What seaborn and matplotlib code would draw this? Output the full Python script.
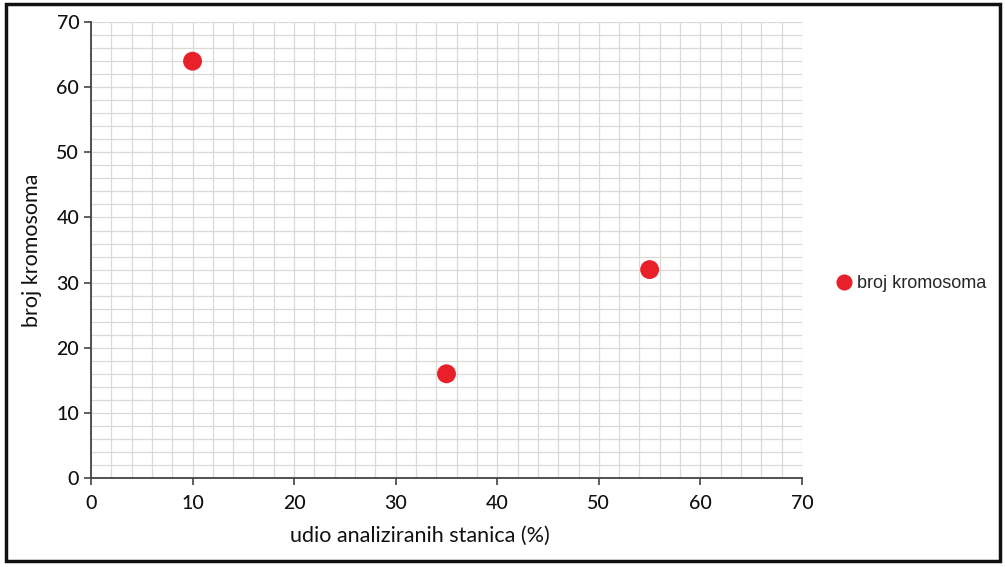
import matplotlib
matplotlib.use("Agg")
import matplotlib.pyplot as plt
import seaborn as sns
import pandas as pd
import numpy as np
from matplotlib.patches import Rectangle

udio = [10, 35, 55]
broj = [64, 16, 32]
series_name = "broj kromosoma"
x_ticks = [0, 10, 20, 30, 40, 50, 60, 70]
y_ticks = [0, 10, 20, 30, 40, 50, 60, 70]

df = pd.DataFrame({"udio": udio, "broj": broj, "serija": series_name})

sns.set_theme(style="white")
plt.rcParams['font.family'] = ['Lato', 'DejaVu Sans']

fig = plt.figure(figsize=(10.05, 5.67), dpi=100)
ax = fig.add_axes([0.0905, 0.157, 0.7075, 0.804])

sns.scatterplot(data=df, x="udio", y="broj", hue="serija", palette=["#e8202a"],
                s=185, edgecolor="none", ax=ax, legend=True, zorder=3)

ax.set_xlim(0, 70)
ax.set_ylim(0, 70)
ax.set_xticks(x_ticks)
ax.set_yticks(y_ticks)
ax.set_xticks(np.arange(0, 71, 2), minor=True)
ax.set_yticks(np.arange(0, 71, 2), minor=True)
ax.grid(True, which="both", color="#dcd8d6", linewidth=0.9)
ax.set_axisbelow(True)
ax.tick_params(axis="both", which="major", direction="out", length=5, width=1.2,
               color="#444444", labelsize=14, labelcolor="#111111", bottom=True, left=True)
ax.tick_params(axis="x", which="major", pad=7)
ax.tick_params(axis="both", which="minor", length=0)
for lab in ax.get_xticklabels() + ax.get_yticklabels():
    lab.set_fontweight("medium")
for s in ["top", "right"]:
    ax.spines[s].set_visible(False)
for s in ["left", "bottom"]:
    ax.spines[s].set_color("#444444")
    ax.spines[s].set_linewidth(1.3)

ax.set_xlabel("udio analiziranih stanica (%)", fontsize=15.5, color="#111111")
ax.set_ylabel("broj kromosoma", fontsize=15.5, color="#111111")
ax.xaxis.set_label_coords(0.463, -0.105)
ax.yaxis.set_label_coords(-0.069, 0.5)

leg = ax.legend(loc="center left", bbox_to_anchor=(0.806, 0.5), bbox_transform=fig.transFigure,
                frameon=False, handletextpad=-0.3, markerscale=0.85,
                prop={"family": "Liberation Sans", "size": 13})

fig.patches.append(Rectangle((0.006, 0.011), 0.989, 0.982, transform=fig.transFigure,
                             fill=False, edgecolor="#111111", linewidth=2.5))

fig.savefig("out.png", dpi=100)
